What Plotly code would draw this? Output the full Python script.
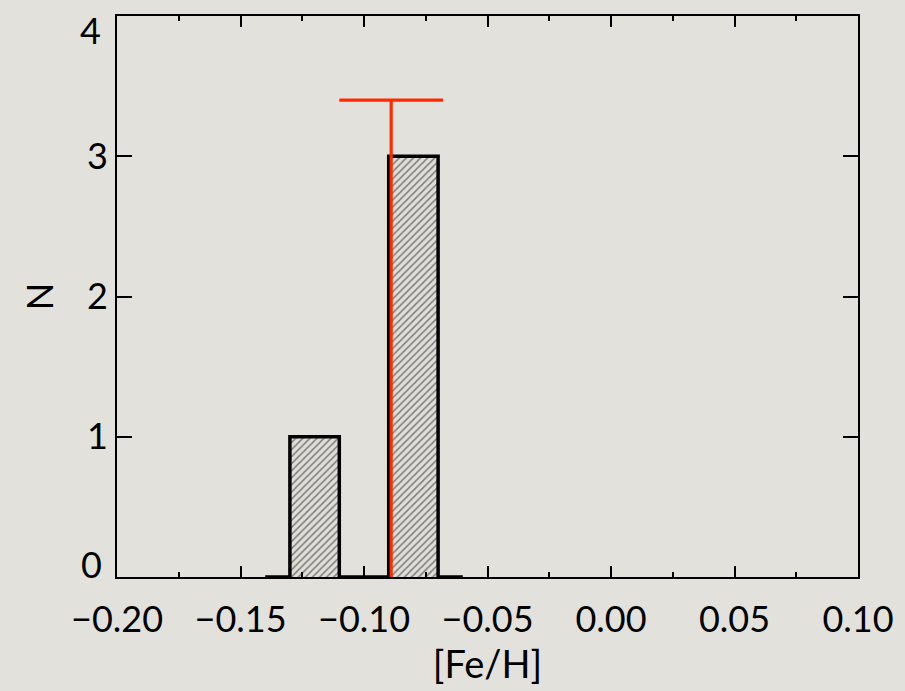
import plotly.graph_objects as go

# Histogram (IDL psym=10 style): bin centres and counts
bin_centers = [-0.14, -0.12, -0.10, -0.08, -0.06]
counts = [0, 1, 0, 3, 0]
bin_width = 0.02

# Mean [Fe/H] and dispersion marker
mean_feh = -0.089
sigma_feh = 0.021
marker_top = 3.4

x_ticks = [-0.20, -0.15, -0.10, -0.05, 0.00, 0.05, 0.10]
y_ticks = [0, 1, 2, 3, 4]
y_tick_text = ["", "1", "2", "3", ""]   # end labels drawn as annotations (nudged inward, like the reference)
y_bottom_label = "0"
y_top_label = "4"

BG = "#e3e1dc"
FONT = "Lato"

fig = go.Figure()

# hatched bars
fig.add_trace(go.Bar(
    x=bin_centers, y=counts, width=bin_width,
    marker=dict(color=BG, line=dict(width=0),
                pattern=dict(shape="/", size=5, solidity=0.3, fgcolor="#1a1a1a", bgcolor="#e0ded9")),
    showlegend=False, hoverinfo="skip",
))

# step outline
fig.add_trace(go.Scatter(
    x=bin_centers, y=counts, mode="lines", line=dict(shape="hvh", color="black", width=3.5),
    showlegend=False,
))

# mean + sigma marker
fig.add_trace(go.Scatter(
    x=[mean_feh, mean_feh], y=[0, marker_top], mode="lines",
    line=dict(color="#ff2a00", width=3.2), showlegend=False,
))
fig.add_trace(go.Scatter(
    x=[mean_feh - sigma_feh, mean_feh + sigma_feh], y=[marker_top, marker_top], mode="lines",
    line=dict(color="#ff2a00", width=3.2), showlegend=False,
))

fig.add_annotation(
    text=y_top_label, xref="paper", x=0, xanchor="right", xshift=-14,
    yref="y", y=y_ticks[-1], yanchor="middle", yshift=-14,
    showarrow=False, font=dict(size=36, family=FONT, color="black"),
)
fig.add_annotation(
    text=y_bottom_label, xref="paper", x=0, xanchor="right", xshift=-13,
    yref="y", y=y_ticks[0], yanchor="middle", yshift=13,
    showarrow=False, font=dict(size=36, family=FONT, color="black"),
)

fig.update_layout(
    width=905, height=691,
    margin=dict(l=117, r=47, t=16, b=114, autoexpand=False),
    paper_bgcolor=BG, plot_bgcolor=BG,
    font=dict(family=FONT, color="black", size=36),
    bargap=0,
)
fig.update_xaxes(
    range=[-0.20, 0.10], tickvals=x_ticks, tickformat=".2f",
    ticks="inside", ticklen=11, tickwidth=2, tickcolor="black",
    minor=dict(dtick=0.025, tick0=0, ticks="inside", ticklen=5, tickwidth=2, tickcolor="black"),
    showline=True, linecolor="black", linewidth=2, mirror="ticks",
    showgrid=False, zeroline=False, automargin=False,
    tickfont=dict(size=36), ticklabelstandoff=10, ticklabeloverflow="allow",
    title=dict(text="[Fe/H]", font=dict(size=38), standoff=0),
)
fig.update_yaxes(
    range=[0, 4], tickvals=y_ticks, ticktext=y_tick_text,
    ticks="inside", ticklen=15, tickwidth=2, tickcolor="black",
    showline=True, linecolor="black", linewidth=2, mirror="ticks",
    showgrid=False, zeroline=False, automargin=False,
    tickfont=dict(size=36), ticklabelstandoff=0, ticklabeloverflow="allow",
    title=dict(text="N", font=dict(size=36), standoff=22),
)

fig.write_html("out.html")
